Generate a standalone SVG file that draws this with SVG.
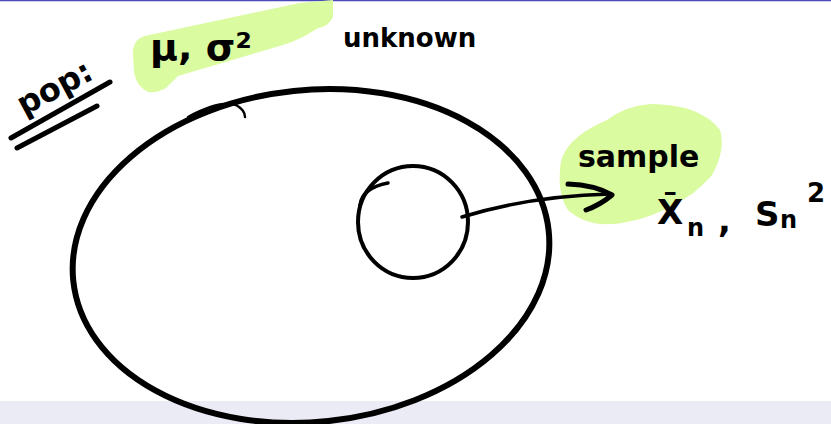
<svg xmlns="http://www.w3.org/2000/svg" width="831" height="424" viewBox="0 0 831 424">
<style>
.ink{fill:none;stroke:#000;stroke-linecap:round;stroke-linejoin:round}
.hl{fill:#dafb9f;stroke:none}
.hw{font-family:"DejaVu Sans","Liberation Sans",sans-serif;font-weight:bold;fill:#000}
</style>
<rect x="0" y="0" width="831" height="424" fill="#fff"/>
<rect x="0" y="401" width="831" height="23" fill="#ebebf6"/>
<line x1="0" y1="0.5" x2="831" y2="0.5" stroke="#4a4ab8" stroke-width="1.5"/>
<g id="highlights">
<path class="hl" d="M133,55 Q132,40 145,36 L300,3 L333,0 L333,17 Q328,27 318,28 Q300,40 283,45 L178,76 Q170,84 166,88 Q158,93 148,92 Q136,86 134,72 Z"/>
<path class="hl" d="M560,170 Q560,140 607,120 Q625,106 650,104 Q700,104 720,130 Q726,150 712,175 Q695,195 673,205 Q650,218 627,222 Q590,230 568,210 Q558,195 560,170 Z"/>
</g>
<g id="population">
<ellipse class="ink" cx="311" cy="256" rx="239" ry="166" transform="rotate(-6 311 256)" stroke-width="6"/>
<path class="ink" d="M188,117 Q220,100 236,105 Q245,110 245,117" stroke-width="2.5"/>
<text class="hw" x="24" y="116" font-size="32" transform="rotate(-28 24 116)">pop:</text>
<line class="ink" x1="11" y1="138" x2="110" y2="82" stroke-width="5"/>
<line class="ink" x1="17" y1="148" x2="97" y2="106" stroke-width="5"/>
<text class="hw" x="150" y="60" font-size="38">μ, σ²</text>
<text class="hw" x="343" y="47" font-size="26">unknown</text>
</g>
<g id="sample">
<ellipse class="ink" cx="413" cy="222" rx="55" ry="56" stroke-width="4"/>
<path class="ink" d="M360,205 Q362,188 388,183" stroke-width="3.5"/>
</g>
<g id="connectors">
<path class="ink" d="M462,217 Q530,196 610,194" stroke-width="3.5"/>
<path class="ink" d="M568,184 Q595,185 612,195 Q600,205 586,210" stroke-width="5"/>
</g>
<g id="sample-label">
<text class="hw" x="578" y="167" font-size="30">sample</text>
<text class="hw" font-size="34" y="224"><tspan x="657">X̄</tspan><tspan x="687" y="236" font-size="24">n</tspan><tspan x="718" y="232">,</tspan><tspan x="755" y="226">S</tspan><tspan x="780" y="228" font-size="24">n</tspan><tspan x="807" y="202" font-size="26">2</tspan></text>
</g>
</svg>
